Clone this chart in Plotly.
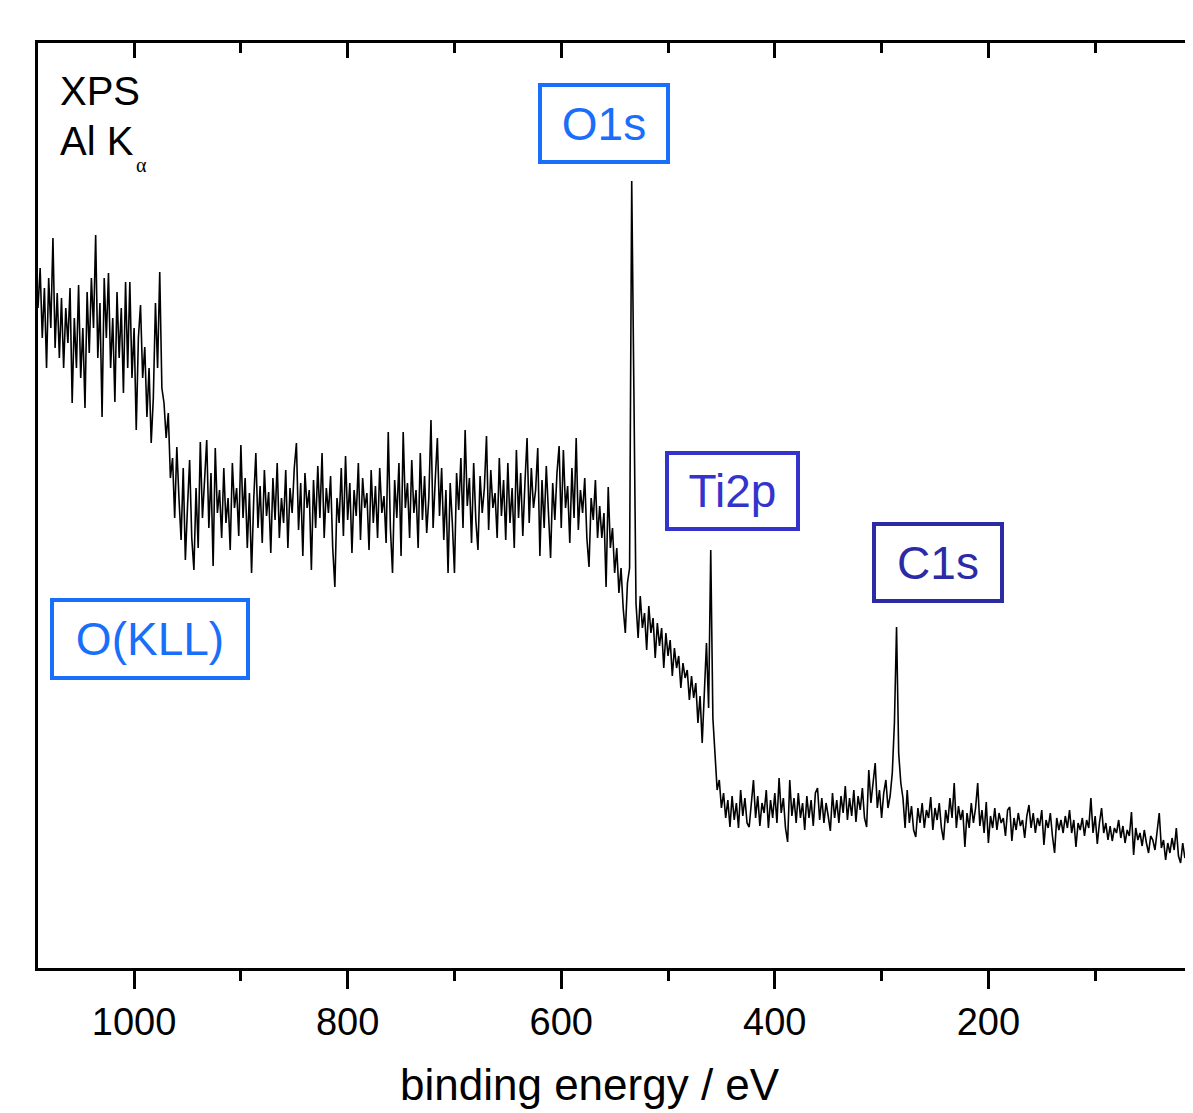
import plotly.graph_objects as go

# ---------------- data ----------------
# XPS survey spectrum, intensity in arbitrary units, sampled every 2 eV.
# Each segment: first binding energy (eV) and the intensities that follow, going down in energy.
ENERGY_STEP = 2

okll_start = 1090
okll_counts = [
    660, 700, 630, 680, 600, 690, 640, 730, 620, 675,
    610, 670, 600, 660, 625, 680, 565, 650, 600, 683,
    590, 640, 560, 676, 615, 690, 640, 733, 610, 665,
    551, 690, 630, 695, 600, 650, 566, 676, 610, 660,
    575, 686, 600, 686, 590, 640, 538, 630, 663, 590,
    621, 551, 600, 525, 570, 665, 600, 696,
]

drop_start = 974
drop_counts = [
    580, 565, 530, 555, 490, 510, 450, 521, 470, 428,
    500, 408, 461, 508, 430, 398, 480, 420,
]

plateau_start = 938
plateau_counts = [
    526, 450, 488, 528, 440, 495, 402, 520, 455, 478,
    430, 500, 445, 470, 418, 505, 460, 480, 432, 523,
    450, 490, 420, 475, 395, 468, 515, 440, 482, 425,
    498, 452, 476, 415, 490, 448, 505, 430, 470, 445,
    498, 420, 480, 455, 500, 525, 438, 485, 412, 495,
    460, 478, 398, 488, 440, 502, 450, 515, 430, 480,
    455, 492, 420, 381, 470, 445, 500, 432, 512, 448,
    485, 415, 478, 452, 505, 428, 490, 460, 475, 418,
    498, 445, 482, 430, 500, 455, 472, 425, 536, 440,
    395, 488, 450, 505, 412, 536, 460, 485, 430, 508,
    455, 478, 420, 515, 448, 492, 435, 470, 548, 440,
    488, 530, 452, 500, 428, 478, 395, 485, 445, 395,
    495, 458, 510, 440, 538, 462, 490, 425, 505, 448,
    418, 492, 455, 480, 532, 438, 498, 460, 475, 430,
    510, 452, 488, 428, 505, 445, 480, 420, 518, 450,
    495, 432, 485, 530, 445, 500, 460, 478, 520, 412,
    488, 440, 502, 455, 410, 485, 448, 495, 522, 440,
    518, 460, 482, 425, 500, 450, 530, 438, 478, 455,
    490, 430, 401, 470, 448, 488, 430,
]

o1s_start = 564
o1s_counts = [
    462, 430, 455, 381, 481, 420, 440, 395, 420, 375,
    400, 360, 335, 385, 400, 787, 580,
]

ti2p_start = 530
ti2p_counts = [
    365, 330, 372, 340, 355, 318, 362, 335, 350, 310,
    345, 322, 340, 300, 335, 312, 328, 292, 320, 300,
    312, 280, 305, 290, 298, 268, 292, 270, 285, 245,
    272, 225, 280, 325, 260, 418, 250, 210, 178, 188,
    160,
]

base_start = 448
base_counts = [
    175, 150, 168, 141, 172, 148, 165, 140, 178, 152,
    170, 145, 141, 168, 188, 150, 172, 142, 165, 155,
    178, 140, 168, 150, 175, 145, 190, 155, 170, 140,
    126, 188, 152, 170, 145, 175, 150, 165, 138, 172,
    150, 168, 142, 175, 180, 148, 170, 145, 165, 152,
    137, 175, 150, 168, 145, 172, 155, 182, 148, 170,
    152, 178, 146, 172, 158, 180, 150, 141, 198, 165,
    182, 205, 160, 178, 150, 175, 188, 160, 172,
]

c1s_start = 290
c1s_counts = [
    195, 245, 341, 215, 185,
    170, 140, 178, 145, 162, 138, 131, 160, 145, 165,
    140, 158, 150, 171, 138, 160, 148, 165, 140, 128,
    158, 145, 170, 150, 185, 140, 162, 148, 158, 121,
    155, 140, 165, 145, 160, 185, 142, 158, 135, 166,
    125, 152, 140, 160, 138, 155, 145, 150, 132, 158,
    161, 127, 150, 138, 155, 142, 148, 130, 152, 163,
    140, 155, 135, 150, 142, 158, 123, 148, 140, 155,
    132, 115, 150, 138, 148, 135, 152, 140, 158, 135,
    148, 121, 145, 138, 150, 132, 148, 140, 170, 135,
    152, 124, 145, 160, 135, 145, 128, 142, 127, 140,
    135, 148, 130, 142, 125, 138, 132, 156, 113, 140,
    128, 135, 122, 138, 125, 115, 132, 128, 118, 135,
    155, 120, 128, 108, 125, 115, 130, 118, 140, 112,
    105, 125, 110, 118,
]

segments = [
    (okll_start, okll_counts),
    (drop_start, drop_counts),
    (plateau_start, plateau_counts),
    (o1s_start, o1s_counts),
    (ti2p_start, ti2p_counts),
    (base_start, base_counts),
    (c1s_start, c1s_counts),
]

energy, intensity = [], []
for start, vals in segments:
    for i, v in enumerate(vals):
        energy.append(start - ENERGY_STEP * i)
        intensity.append(v)

major_ticks = [1000, 800, 600, 400, 200]
minor_ticks = [900, 700, 500, 300, 100]
x_range = [1090, 14]
y_range = [0, 925]

peak_labels = ["O1s", "Ti2p", "C1s", "O(KLL)"]

# ---------------- figure ----------------
FONT = "Liberation Sans, Arial, sans-serif"
PAGE_OFF = 8  # body margin of the html page
PL, PR, PT, PB = 38, 1190, 43, 968  # plot area edges on the page


def fx(xp):
    return (xp - PL) / (PR - PL)


def fy(yp):
    return (PB - yp) / (PB - PT)


fig = go.Figure()
fig.add_trace(go.Scatter(
    x=energy, y=intensity, mode="lines",
    line=dict(color="black", width=1.6),
    showlegend=False, hoverinfo="skip",
))
fig.add_trace(go.Scatter(x=[], y=[], xaxis="x2", showlegend=False))

W, H = 1185, 1105
fig.update_layout(
    width=W, height=H,
    margin=dict(l=PL - PAGE_OFF, r=W - (PR - PAGE_OFF), t=PT - PAGE_OFF, b=H - (PB - PAGE_OFF), pad=0),
    paper_bgcolor="white", plot_bgcolor="white",
    xaxis=dict(
        range=x_range, tickvals=major_ticks, ticktext=[str(t) for t in major_ticks],
        ticks="outside", ticklen=18, tickwidth=3, tickcolor="black",
        showline=True, linewidth=3, linecolor="black",
        showgrid=False, zeroline=False,
        tickfont=dict(family=FONT, size=38, color="black"),
        ticklabelstandoff=0,
        minor=dict(tickvals=minor_ticks, ticks="outside", ticklen=10, tickwidth=3,
                   tickcolor="black", showgrid=False),
    ),
    xaxis2=dict(
        overlaying="x", side="top", range=x_range, tickvals=major_ticks,
        ticks="inside", ticklen=15, tickwidth=3, tickcolor="black",
        showticklabels=False, showline=True, linewidth=3, linecolor="black",
        showgrid=False, zeroline=False,
        minor=dict(tickvals=minor_ticks, ticks="inside", ticklen=10, tickwidth=3,
                   tickcolor="black", showgrid=False),
    ),
    yaxis=dict(
        range=y_range, showline=True, linewidth=3, linecolor="black", mirror=True,
        ticks="", showticklabels=False, showgrid=False, zeroline=False,
    ),
)

ann = []
# axis title
ann.append(dict(text="binding energy / eV", xref="paper", yref="paper",
                x=fx(591), y=fy(1058), xanchor="center", yanchor="top",
                showarrow=False, font=dict(family=FONT, size=44, color="black")))
# XPS / Al K alpha
ann.append(dict(text="XPS", xref="paper", yref="paper", x=fx(58), y=fy(67),
                xanchor="left", yanchor="top", showarrow=False,
                font=dict(family=FONT, size=40, color="black")))
ann.append(dict(text="Al K", xref="paper", yref="paper", x=fx(58), y=fy(117),
                xanchor="left", yanchor="top", showarrow=False,
                font=dict(family=FONT, size=40, color="black")))
ann.append(dict(text="α", xref="paper", yref="paper", x=fx(142), y=fy(165),
                xanchor="center", yanchor="middle", showarrow=False,
                font=dict(family="Liberation Serif, serif", size=20, color="black")))

# boxed peak labels: (text, centre x, centre y, outer width, outer height, colour)
boxes = [
    (peak_labels[0], 605, 123, 132, 81, "#196EFA"),
    (peak_labels[1], 734, 491, 135, 80, "#3434CC"),
    (peak_labels[2], 940, 562, 132, 81, "#2B2BA6"),
    (peak_labels[3], 150, 639, 200, 82, "#196EFA"),
]
BW = 4
for txt, cx, cy, ow, oh, col in boxes:
    ann.append(dict(text=txt, xref="paper", yref="paper", x=fx(cx), y=fy(cy),
                    xanchor="center", yanchor="middle", showarrow=False,
                    width=ow - 2 * BW, height=oh - 2 * BW, align="center", valign="middle",
                    bordercolor=col, borderwidth=BW, borderpad=0, bgcolor="rgba(0,0,0,0)",
                    font=dict(family=FONT, size=46, color=col)))

fig.update_layout(annotations=ann)

fig.write_html("out.html")
